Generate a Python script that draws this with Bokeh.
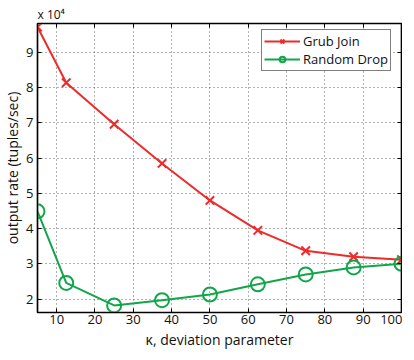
from bokeh.plotting import figure
from bokeh.models import (LinearAxis, FixedTicker, Range1d, Legend,
                          CustomJSTickFormatter)
from bokeh.embed import file_html
from bokeh.resources import INLINE

# data (output rate in tuples/sec)
kappa = [5, 12.5, 25, 37.5, 50, 62.5, 75, 87.5, 100]
grub_join = [97200, 81400, 69600, 58500, 48000, 39500, 33700, 32000, 31200]
random_drop = [44900, 24600, 18200, 19700, 21300, 24200, 27000, 29000, 30000]
x_ticks = [10, 20, 30, 40, 50, 60, 70, 80, 90, 100]
y_ticks = [20000, 30000, 40000, 50000, 60000, 70000, 80000, 90000]
y_tick_labels = ["2", "3", "4", "5", "6", "7", "8", "9"]

FONT = "Open Sans"
RED = "#ee2a2a"
GREEN = "#12a54a"

p = figure(frame_width=364, frame_height=289, output_backend="svg",
           toolbar_location=None, title="x 10\u2074",
           x_range=Range1d(5, 100), y_range=Range1d(16200, 98200),
           min_border_left=33, min_border_right=1, min_border_top=23,
           min_border_bottom=36)
p.outline_line_color = "black"
p.outline_line_width = 1.5
p.background_fill_color = "white"
p.border_fill_color = "white"

p.title.text_font = FONT
p.title.text_font_size = "12px"
p.title.text_font_style = "normal"
p.title.text_color = "#111111"
p.title.align = "left"
p.title.offset = 0
p.title.standoff = 2

def style_axis(ax, labels=True):
    ax.axis_line_color = "black"
    ax.axis_line_width = 1.2
    ax.major_tick_in = 4
    ax.major_tick_out = 0
    ax.minor_tick_in = 0
    ax.minor_tick_out = 0
    ax.major_tick_line_color = "black"
    ax.major_tick_line_width = 1
    ax.major_label_text_font = FONT
    ax.major_label_text_font_size = "13px"
    ax.major_label_text_color = "#111111"
    ax.major_label_standoff = 2 if labels else 0
    ax.axis_label_text_font = FONT
    ax.axis_label_text_font_size = "14px"
    ax.axis_label_text_font_style = "normal"
    ax.axis_label_text_color = "#111111"
    ax.axis_label_standoff = 3

p.xaxis.ticker = FixedTicker(ticks=x_ticks)
p.yaxis.ticker = FixedTicker(ticks=y_ticks)
p.yaxis.major_label_overrides = {t: l for t, l in zip(y_ticks, y_tick_labels)}
p.xaxis.axis_label = "κ, deviation parameter"
p.yaxis.axis_label = "output rate (tuples/sec)"
style_axis(p.xaxis[0])
style_axis(p.yaxis[0])
p.yaxis.major_label_standoff = 4
p.yaxis.axis_label_standoff = 1

blank = CustomJSTickFormatter(code="return ''")
top = LinearAxis(ticker=FixedTicker(ticks=x_ticks), formatter=blank)
right = LinearAxis(ticker=FixedTicker(ticks=y_ticks), formatter=blank)
style_axis(top, labels=False)
style_axis(right, labels=False)
p.add_layout(top, "above")
p.add_layout(right, "right")

p.grid.grid_line_color = "#555555"
p.grid.grid_line_dash = "1 3"
p.grid.grid_line_width = 1
p.grid.grid_line_alpha = 0.9
p.xgrid.ticker = FixedTicker(ticks=x_ticks)
p.ygrid.ticker = FixedTicker(ticks=y_ticks)

r1 = p.line(kappa, grub_join, line_color=RED, line_width=2)
m1 = p.scatter(kappa, grub_join, marker="x", size=12, line_color=RED, line_width=2)
r2 = p.line(kappa, random_drop, line_color=GREEN, line_width=2)
m2 = p.scatter(kappa, random_drop, marker="circle", size=14, line_color=GREEN,
               fill_color=None, line_width=2)

legend = Legend(items=[("Grub Join", [r1, m1]), ("Random Drop", [r2, m2])],
                location=(224, 241))
legend.label_text_font = FONT
legend.label_text_font_size = "13px"
legend.label_text_color = "#111111"
legend.border_line_color = "black"
legend.border_line_width = 1.5
legend.padding = 2
legend.spacing = 0
legend.margin = 0
legend.glyph_width = 36
legend.glyph_height = 14
legend.label_height = 14
legend.label_standoff = 3
legend.background_fill_alpha = 1
p.add_layout(legend, "center")

open("out.html", "w").write(file_html(p, INLINE))
